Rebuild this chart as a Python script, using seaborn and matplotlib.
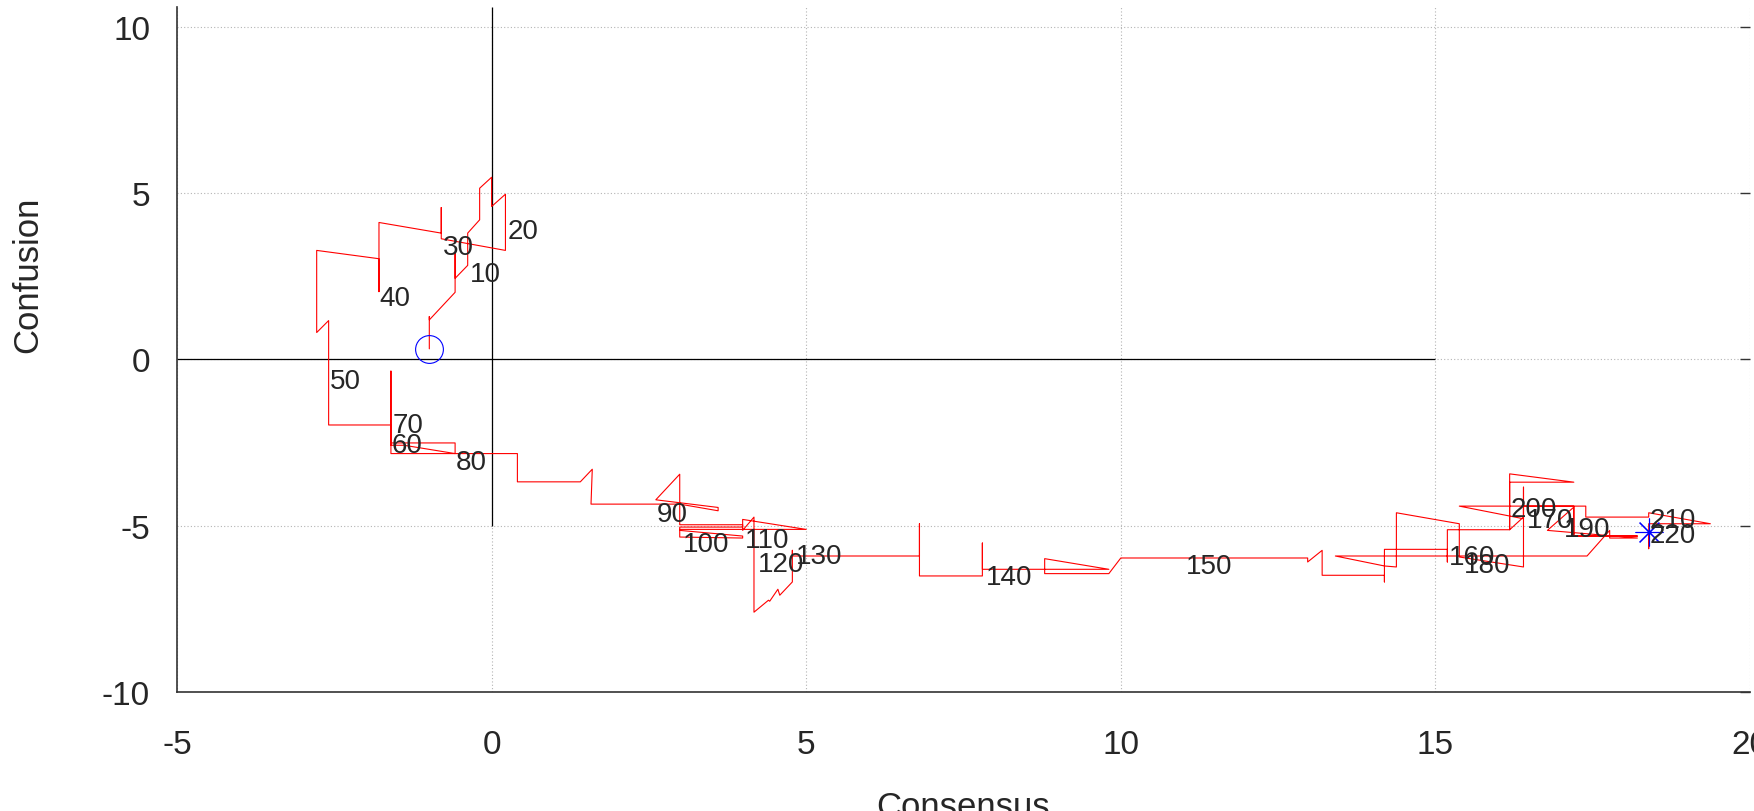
import matplotlib
matplotlib.use('Agg')
import matplotlib.pyplot as plt
import seaborn as sns
import pandas as pd

# path of the walk (Consensus, Confusion)
consensus = [-0.99, -0.99, -0.99, -0.58, -0.58, -0.58, -0.38, -0.38, -0.19, -0.19,
             0.00, 0.00, 0.22, 0.22, -0.80, -0.80, -0.80, -1.79, -1.79, -1.79,
             -2.78, -2.78, -2.59, -2.59, -1.60, -1.60, -0.58, -0.58, -1.60, -1.60,
             -1.60, -1.39, -0.58, 0.41, 0.41, 1.41, 1.60, 1.58, 2.99, 3.60,
             3.60, 2.61, 2.99, 2.99, 3.99, 3.99, 2.99, 2.99, 3.99, 3.99,
             2.99, 2.99, 5.00, 3.99, 3.99, 4.17, 4.17, 4.40, 4.42, 4.55,
             4.58, 4.78, 4.78, 4.78, 6.80, 6.80, 6.80, 7.80, 7.80, 7.80,
             8.79, 8.79, 9.81, 8.79, 8.79, 9.81, 10.00, 12.97, 12.97, 13.20,
             13.20, 14.19, 14.19, 14.19, 15.19, 15.19, 15.19, 16.18, 16.18, 17.20,
             16.18, 16.18, 16.40, 16.40, 16.40, 15.38, 15.38, 14.38, 14.38, 14.19,
             13.41, 17.41, 17.77, 17.77, 18.21, 16.78, 17.20, 17.20, 18.21, 17.20,
             17.20, 15.38, 16.40, 16.40, 17.39, 17.39, 18.39, 18.39, 19.37, 18.39,
             18.39, 18.39]
confusion = [0.32, 1.29, 1.19, 2.02, 3.20, 2.44, 2.83, 3.80, 4.20, 5.15,
             5.48, 4.60, 4.97, 3.28, 3.63, 4.57, 3.80, 4.12, 2.04, 3.03,
             3.28, 0.81, 1.17, -1.97, -1.97, -2.83, -2.83, -2.51, -2.51, -0.35,
             -2.58, -2.58, -2.83, -2.83, -3.68, -3.68, -3.30, -4.35, -4.35, -4.55,
             -4.45, -4.22, -3.45, -4.97, -4.97, -5.04, -5.04, -5.14, -5.31, -5.37,
             -5.34, -5.11, -5.11, -4.81, -5.14, -4.74, -7.60, -7.24, -7.27, -6.91,
             -7.09, -6.69, -5.74, -5.91, -5.91, -4.94, -6.51, -6.51, -5.52, -6.31,
             -6.31, -5.99, -6.31, -6.31, -6.44, -6.44, -5.97, -5.97, -6.09, -5.74,
             -6.49, -6.49, -6.69, -5.71, -5.71, -6.09, -5.12, -5.12, -3.44, -3.69,
             -3.69, -5.12, -4.74, -3.84, -6.24, -5.94, -4.94, -4.61, -6.24, -6.21,
             -5.91, -5.91, -5.14, -5.37, -5.37, -5.14, -4.44, -5.31, -5.31, -5.31,
             -4.41, -4.41, -4.79, -4.41, -4.41, -4.74, -4.74, -4.61, -4.94, -4.94,
             -5.69, -5.20]

# step labels along the path
step_labels = ['10', '20', '30', '40', '50', '60', '70', '80', '90', '100', '110',
               '120', '130', '140', '150', '160', '170', '180', '190', '200', '210', '220']
label_x = [-0.34, 0.25, -0.78, -1.79, -2.57, -1.59, -1.57, -0.57, 2.62, 3.04, 4.02,
           4.23, 4.84, 7.85, 11.03, 15.21, 16.46, 15.45, 17.04, 16.19, 18.41, 18.41]
label_y = [2.56, 3.87, 3.37, 1.84, -0.65, -2.58, -1.97, -3.08, -4.66, -5.56, -5.44,
           -6.14, -5.92, -6.54, -6.22, -5.94, -4.84, -6.19, -5.09, -4.49, -4.84, -5.29]

sns.set_style('white')
plt.rcParams['font.family'] = ['Liberation Sans', 'DejaVu Sans']
plt.rcParams['axes.unicode_minus'] = False

fig = plt.figure(figsize=(17.54, 8.12), dpi=100)
ax = fig.add_axes([177 / 1754, 119 / 812, 1573 / 1754, 685 / 812])
ax.set_xlim(-5, 20)
ax.set_ylim(-10, 10.6)
ax.set_xticks(range(-5, 21, 5))
ax.set_yticks(range(-10, 11, 5))

ax.grid(True, color='#b4b4b4', linestyle=(0, (1, 2)), linewidth=0.8)
ax.set_axisbelow(True)
# zero axes (gnuplot style, partly drawn)
ax.hlines(0, -5, 15, color='black', linewidth=0.9, zorder=1.5)
ax.vlines(0, -5, 10.6, color='black', linewidth=0.9, zorder=1.5)

df = pd.DataFrame({'Consensus': consensus, 'Confusion': confusion})
sns.lineplot(data=df, x='Consensus', y='Confusion', sort=False, estimator=None,
             color='red', linewidth=0.8, ax=ax)

ax.plot(consensus[0], confusion[0], marker='o', ms=20, mfc='none', mec='blue', mew=0.8, ls='none')
ax.plot(consensus[-1], confusion[-1], marker=(8, 2, 0), ms=20, mec='blue', mew=0.8, ls='none')

for t, lx, ly in zip(step_labels, label_x, label_y):
    ax.text(lx, ly, t, fontsize=20, ha='left', va='center')

for s in ['top', 'right']:
    ax.spines[s].set_visible(False)
for s in ['left', 'bottom']:
    ax.spines[s].set_color('#333333')
    ax.spines[s].set_linewidth(1.2)

ax.tick_params(direction='in', length=13, width=1, color='#333333', labelsize=24)
ax.tick_params(axis='x', pad=27)
ax.tick_params(axis='y', pad=19.4, right=True)
for tick in ax.yaxis.get_major_ticks():
    tick.tick2line.set_markersize(7)

ax.set_xlabel('Consensus', fontsize=25, va='top')
ax.xaxis.set_label_coords(0.5, -0.143)
ax.set_ylabel('Confusion', fontsize=25, va='center')
ax.yaxis.set_label_coords(-0.095, 0.61)

fig.savefig('out.png', dpi=100)
